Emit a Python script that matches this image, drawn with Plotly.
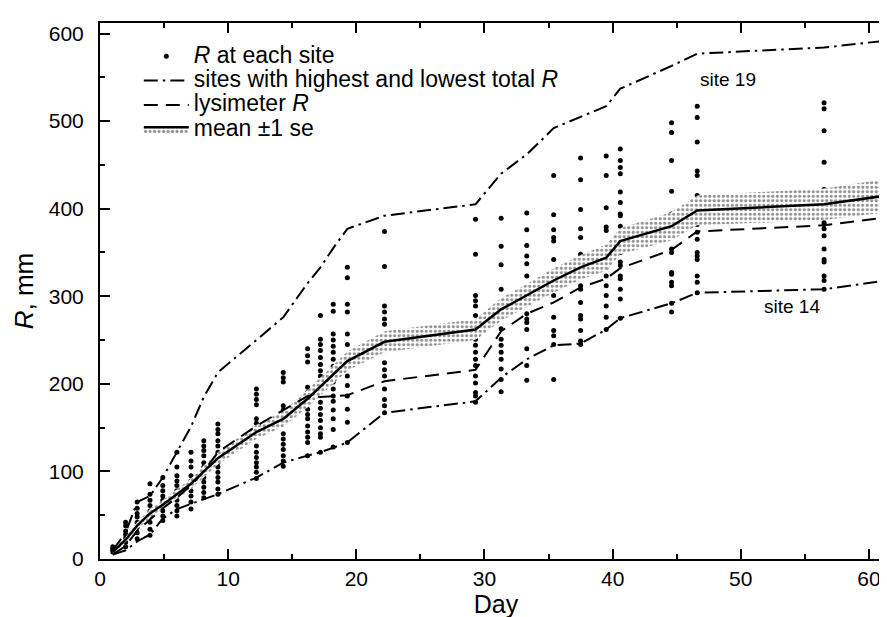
import plotly.graph_objects as go

# Measurement days
days = [1, 2, 2.9, 3.9, 4.9, 6, 7.1, 8.1, 9.2, 12.2, 14.3, 16.2, 17.2, 18.2, 19.3,
        22.2, 29.3, 31.3, 33.3, 35.4, 37.5, 39.5, 40.6, 44.6, 46.6, 56.5, 61.4]

# Mean R across sites and its standard error (mm)
mean_R = [8, 22, 38, 52, 62, 74, 86, 100, 115, 145, 160, 183, 197, 211, 226,
          248, 262, 285, 301, 318, 333, 344, 363, 380, 398, 405, 415]
se_R = [2, 3, 4, 5, 5, 6, 6, 7, 7, 8, 9, 10, 10, 11, 11,
        12, 12, 13, 13, 14, 14, 15, 15, 16, 17, 18, 19]

# Lysimeter R (mm)
lys_R = [5, 15, 32, 45, 58, 70, 84, 100, 122, 152, 170, 186, 185, 186, 187,
         203, 216, 260, 280, 293, 310, 320, 332, 353, 374, 381, 390]

# Sites with highest (site 19) and lowest (site 14) total R (mm)
site19_R = [10, 30, 65, 72, 93, 122, 151, 185, 213, 250, 276, 315, 333, 355, 377,
            392, 405, 440, 462, 492, 505, 517, 537, 563, 577, 584, 592]
site14_R = [5, 10, 20, 28, 46, 57, 63, 68, 74, 93, 110, 118, 122, 127, 133,
            167, 180, 207, 228, 244, 246, 262, 275, 292, 304, 308, 318]

# R at each site, one list per measurement day (mm)
site_R = [
    [8, 10, 12, 14],
    [14, 19, 24, 28, 32, 38, 42],
    [23, 30, 36, 42, 48, 52, 58, 65],
    [27, 34, 42, 49, 55, 61, 67, 74, 86],
    [44, 49, 55, 61, 67, 72, 78, 84, 93],
    [49, 55, 61, 67, 72, 78, 84, 89, 95, 105, 122],
    [57, 65, 72, 78, 84, 89, 95, 105, 112, 122],
    [70, 76, 82, 88, 93, 99, 105, 110, 118, 124, 129, 135],
    [74, 80, 88, 93, 99, 105, 110, 116, 122, 129, 135, 143, 148, 154],
    [92, 99, 105, 110, 116, 122, 129, 148, 155, 160, 176, 182, 188, 194],
    [106, 112, 118, 125, 131, 137, 143, 160, 164, 170, 175, 202, 207, 213],
    [118, 133, 139, 145, 152, 160, 165, 171, 186, 190, 196, 225, 232, 240],
    [122, 139, 143, 150, 158, 165, 172, 179, 194, 202, 209, 215, 222, 230, 238, 245, 251, 278],
    [128, 148, 160, 170, 180, 186, 194, 202, 212, 220, 228, 236, 243, 250, 257, 283, 291],
    [133, 156, 171, 186, 198, 209, 224, 230, 245, 257, 282, 291, 321, 333],
    [167, 175, 182, 194, 209, 216, 224, 247, 268, 274, 282, 289, 334, 374],
    [179, 186, 190, 201, 209, 221, 228, 236, 244, 251, 262, 270, 278, 289, 295, 301, 348, 388],
    [191, 205, 217, 228, 236, 244, 251, 263, 278, 285, 308, 336, 357, 389],
    [204, 221, 240, 262, 270, 274, 280, 301, 323, 337, 346, 358, 376, 395],
    [205, 245, 255, 261, 276, 301, 308, 316, 342, 363, 367, 376, 393, 438],
    [245, 249, 261, 274, 278, 293, 308, 312, 342, 344, 348, 367, 377, 399, 433, 458],
    [262, 276, 289, 301, 312, 323, 333, 350, 375, 379, 401, 438, 460],
    [275, 297, 308, 320, 323, 335, 339, 350, 358, 380, 392, 394, 407, 419, 440, 447, 455, 468],
    [282, 292, 312, 316, 325, 327, 350, 354, 373, 388, 394, 420, 455, 487, 498],
    [304, 316, 323, 342, 346, 350, 365, 373, 382, 386, 396, 403, 407, 415, 438, 443, 476, 504, 517],
    [308, 318, 323, 339, 342, 354, 369, 377, 382, 384, 394, 405, 407, 419, 422, 453, 489, 514, 521],
    [318, 327, 335, 352, 361, 380, 392, 403, 415, 426, 430, 462, 497, 523, 529],
]

x_ticks = [0, 10, 20, 30, 40, 50, 60]
y_ticks = [0, 100, 200, 300, 400, 500, 600]

FONT = "Liberation Sans, Arial, Helvetica, sans-serif"


def big(txt):
    return '<span style="font-size:23px">' + txt + '</span>'


x_pts, y_pts = [], []
for d, vals in zip(days, site_R):
    x_pts += [d] * len(vals)
    y_pts += vals

upper = [m + s for m, s in zip(mean_R, se_R)]
lower = [m - s for m, s in zip(mean_R, se_R)]

pattern = dict(shape=".", fgcolor="#222222", bgcolor="white", size=4.5, solidity=0.4)

fig = go.Figure()
fig.add_trace(go.Scatter(x=x_pts, y=y_pts, mode="markers",
                         marker=dict(color="black", size=5),
                         name=big("<i>R</i> at each site"), legendrank=1))
fig.add_trace(go.Scatter(x=days, y=upper, mode="lines", line=dict(width=0, color="black"),
                         showlegend=False, hoverinfo="skip"))
fig.add_trace(go.Scatter(x=days, y=mean_R, mode="lines", line=dict(color="black", width=2.5),
                         fill="tonexty", fillpattern=pattern,
                         name=big("mean \u00b11 se"), legendrank=4))
fig.add_trace(go.Scatter(x=days, y=lower, mode="lines", line=dict(width=0, color="black"),
                         fill="tonexty", fillpattern=pattern,
                         showlegend=False, hoverinfo="skip"))
fig.add_trace(go.Scatter(x=days, y=site19_R, mode="lines",
                         line=dict(color="black", width=2, dash="14px,5px,2.5px,5px"),
                         name=big("sites with highest and lowest total <i>R</i>"),
                         legendgroup="hl", legendrank=2))
fig.add_trace(go.Scatter(x=days, y=site14_R, mode="lines",
                         line=dict(color="black", width=2, dash="14px,5px,2.5px,5px"),
                         showlegend=False, legendgroup="hl"))
fig.add_trace(go.Scatter(x=days, y=lys_R, mode="lines",
                         line=dict(color="black", width=2, dash="14px,8px"),
                         name=big("lysimeter <i>R</i>"), legendrank=3))

fig.add_annotation(x=49, y=548, text="site 19", showarrow=False,
                   font=dict(size=19, color="black", family=FONT))
fig.add_annotation(x=54, y=288, text="site 14", showarrow=False,
                   font=dict(size=19, color="black", family=FONT))

axis_common = dict(
    showline=True, linewidth=2, linecolor="black", mirror="allticks",
    ticks="inside", ticklen=10, tickwidth=1.5, tickcolor="black",
    showgrid=False, zeroline=False,
    tickfont=dict(size=21, color="black", family=FONT),
)

fig.update_xaxes(range=[0, 61.8], tickvals=x_ticks,
                 minor=dict(ticks="inside", ticklen=5, tickwidth=1.5, dtick=5, tick0=0,
                            tickcolor="black", showgrid=False),
                 title=dict(text="Day", font=dict(size=25, color="black", family=FONT), standoff=0),
                 **axis_common)
fig.update_yaxes(range=[0, 612], tickvals=y_ticks, ticklabelstandoff=10,
                 minor=dict(ticks="inside", ticklen=5, tickwidth=1.5, dtick=50, tick0=0,
                            tickcolor="black", showgrid=False),
                 title=dict(text="<i>R</i>, mm", font=dict(size=26, color="black", family=FONT), standoff=8),
                 **axis_common)

fig.update_layout(
    width=887, height=617,
    margin=dict(l=92, r=1, t=15, b=66),
    paper_bgcolor="white", plot_bgcolor="white",
    font=dict(family=FONT, color="black"),
    showlegend=True,
    legend=dict(x=0.049, y=0.97, xanchor="left", yanchor="top",
                bgcolor="rgba(0,0,0,0)", borderwidth=0,
                font=dict(size=16.4, color="black", family=FONT),
                itemwidth=45, tracegroupgap=0),
)

fig.write_html("out.html")
